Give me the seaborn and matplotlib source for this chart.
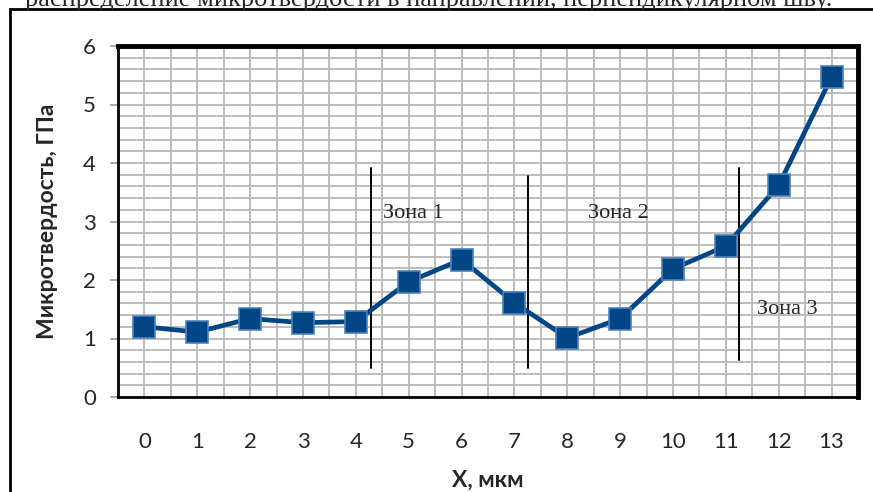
import numpy as np
import pandas as pd
import seaborn as sns
import matplotlib.pyplot as plt
from matplotlib.ticker import MultipleLocator
from matplotlib.patches import Rectangle

# measured microhardness values
x_pos = [0, 1, 2, 3, 4, 5, 6, 7, 8, 9, 10, 11, 12, 13]
hardness = [1.20, 1.11, 1.34, 1.27, 1.29, 1.97, 2.35, 1.61, 1.01, 1.34, 2.19, 2.58, 3.62, 5.47]

# zone boundaries (x position, bottom, top) and labels
zone_x = [4.29, 7.26, 11.25]
zone_bottom = [0.50, 0.50, 0.63]
zone_top = [3.91, 3.78, 3.91]
zone_labels = ['Зона 1', 'Зона 2', 'Зона 3']
zone_label_x = [4.52, 8.40, 11.58]
zone_label_y = [3.13, 3.13, 1.50]

df = pd.DataFrame({'x': x_pos, 'hv': hardness})

sns.set_style('white')
plt.rcParams['font.family'] = ['Lato', 'DejaVu Sans']

W, H = 873, 492
fig = plt.figure(figsize=(W / 100, H / 100), dpi=100)
ax = fig.add_axes([118 / W, (H - 397) / H, (858 - 118) / W, (397 - 46) / H])

grid_c = '#b8b8b8'
ax.set_xlim(-0.5, 13.5)
ax.set_ylim(0, 6)
ax.xaxis.set_major_locator(MultipleLocator(1))
ax.xaxis.set_minor_locator(MultipleLocator(1, offset=0.5))
ax.yaxis.set_major_locator(MultipleLocator(1))
ax.yaxis.set_minor_locator(MultipleLocator(0.2))
ax.grid(True, which='both', color=grid_c, lw=1.3)
ax.set_axisbelow(True)

sns.lineplot(data=df, x='x', y='hv', ax=ax, color='#004586', lw=3.4,
             marker='s', markersize=16, markerfacecolor='#004586',
             markeredgecolor='#4f81bd', markeredgewidth=1.2, zorder=5)

for zx, zb, zt in zip(zone_x, zone_bottom, zone_top):
    ax.plot([zx, zx], [zb, zt], color='black', lw=1.4, zorder=4)
for lab, lx, ly in zip(zone_labels, zone_label_x, zone_label_y):
    ax.text(lx, ly, lab, fontsize=16, family='Liberation Serif', va='center', ha='left')

ax.set_xticks(x_pos)
ax.set_xticklabels([str(v) for v in x_pos])
ax.tick_params(axis='x', which='major', length=0, pad=25, labelsize=16)
ax.tick_params(axis='x', which='minor', length=7, width=1.3, color='#a0a0a0', direction='out')
ax.tick_params(axis='y', which='major', length=6, width=1.3, color='#a0a0a0', pad=10, labelsize=16, left=True)
ax.tick_params(axis='y', which='minor', length=0)

for side in ['top', 'right']:
    ax.spines[side].set_linewidth(3.5)
    ax.spines[side].set_color('black')
for side in ['left', 'bottom']:
    ax.spines[side].set_linewidth(2)
    ax.spines[side].set_color('black')

ax.set_xlabel('Х, мкм', fontsize=16.5, fontweight='bold', labelpad=13)
ax.set_ylabel('Микротвердость, ГПа', fontsize=16.5, fontweight='bold', labelpad=18)

# outer frame of the embedded chart
fig.patches.append(Rectangle((10 / W, -0.1), 1.2, 1.1 - 9 / H, transform=fig.transFigure,
                             fill=False, ec='black', lw=2))
# cut-off caption line above the chart
fig.text(832 / W, 1 - 6 / H, 'распределение микротвердости в направлении, перпендикулярном шву.',
         ha='right', va='baseline', fontsize=19, family='Liberation Serif')

fig.savefig('out.png', dpi=100)
